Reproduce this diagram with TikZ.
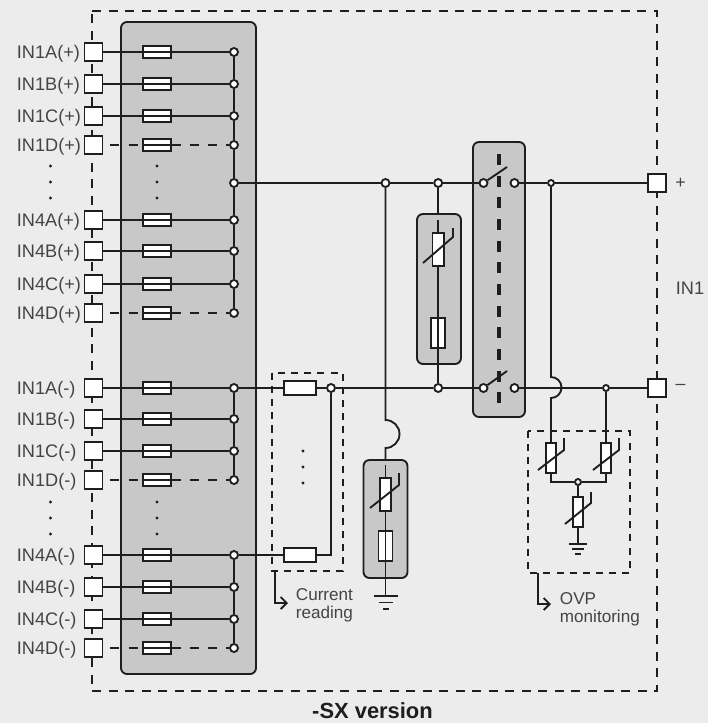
\documentclass[tikz,border=0pt]{standalone}
\usepackage{fontspec}
\setmainfont{Liberation Sans}
\usetikzlibrary{arrows.meta}
\definecolor{panel}{HTML}{ECECEC}
\definecolor{spd}{HTML}{C8C8C8}
\definecolor{wire}{HTML}{1E1E1E}
\definecolor{txt}{HTML}{444444}
\begin{document}
\begin{tikzpicture}[x=0.03cm,y=0.03cm,color=wire]
\tikzstyle{every node}+=[inner sep=0pt]
\tikzstyle{every path}+=[line width=1.6pt]
\tikzstyle{terminal}=[draw,fill=white,minimum size=0.54cm]
\tikzstyle{fuseh}=[draw,fill=white,minimum width=0.84cm,minimum height=0.38cm]
\tikzstyle{shunt}=[draw,fill=white,minimum width=0.94cm,minimum height=0.4cm]
\tikzstyle{fusev}=[draw,fill=white,minimum width=0.42cm,minimum height=0.9cm]
\tikzstyle{varistor}=[draw,fill=white,minimum width=0.34cm,minimum height=1cm]
\tikzstyle{varsmall}=[draw,fill=white,minimum width=0.3cm,minimum height=0.9cm]
\tikzstyle{junc}=[circle,draw,fill=white,minimum size=0.24cm]
\tikzstyle{jsmall}=[circle,draw,fill=white,minimum size=0.18cm]
\tikzstyle{pin}=[circle,fill=wire,minimum size=0.1cm]
\tikzstyle{spdbox}=[draw,fill=spd,rounded corners=0.18cm]
\tikzstyle{inlabel}=[anchor=base west,text=txt,font=\fontsize{15.5}{18}\selectfont]
\tikzstyle{notelabel}=[anchor=north west,align=left,text=txt,font=\fontsize{14.6}{15.4}\selectfont]
\tikzstyle{feed}=[dash pattern=on 7.7pt off 7.7pt]
\tikzstyle{boxdash}=[dash pattern=on 6pt off 5.2pt]
\tikzstyle{outerdash}=[dash pattern=on 7.7pt off 6.4pt]
\tikzstyle{linkdash}=[line width=2.8pt,dash pattern=on 9.4pt off 9.1pt]
\tikzstyle{noteline}=[-{Straight Barb[length=0.18cm,width=0.36cm]}]
% sheet
\fill [panel] (0,0) rectangle (708,-723);
\useasboundingbox (0,0) rectangle (708,-723);
\draw [outerdash] (92,-11) -- (657,-11) -- (657,-691) -- (92,-691) -- cycle;
% grey blocks
\node [spdbox,minimum width=4.05cm,minimum height=19.56cm] (spdin) at (188.5,-348) {};
\node [spdbox,minimum width=1.56cm,minimum height=8.25cm] (spdsw) at (499,-279.5) {};
\node [spdbox,minimum width=1.32cm,minimum height=4.5cm] (spdmid) at (439,-289) {};
\node [spdbox,minimum width=1.32cm,minimum height=3.54cm] (spdlow) at (385.5,-519) {};
% dashed groups
\draw [boxdash] (272,-373) rectangle (343,-571);
\draw [boxdash] (528,-431) rectangle (630,-573);
% input rows, plus side
\node [inlabel] (lp1a) at (16,-58.5) {IN1A(+)};
\node [inlabel] (lp1b) at (16,-90.5) {IN1B(+)};
\node [inlabel] (lp1c) at (16,-122.5) {IN1C(+)};
\node [inlabel] (lp1d) at (16,-151.5) {IN1D(+)};
\node [inlabel] (lp4a) at (16,-226.5) {IN4A(+)};
\node [inlabel] (lp4b) at (16,-257.5) {IN4B(+)};
\node [inlabel] (lp4c) at (16,-290.5) {IN4C(+)};
\node [inlabel] (lp4d) at (16,-319.5) {IN4D(+)};
\node [terminal] (tp1a) at (93.5,-52) {};
\node [terminal] (tp1b) at (93.5,-84) {};
\node [terminal] (tp1c) at (93.5,-116) {};
\node [terminal] (tp1d) at (93.5,-145) {};
\node [terminal] (tp4a) at (93.5,-220) {};
\node [terminal] (tp4b) at (93.5,-251) {};
\node [terminal] (tp4c) at (93.5,-284) {};
\node [terminal] (tp4d) at (93.5,-313) {};
\node [fuseh] (fp1a) at (157,-52) {};
\node [fuseh] (fp1b) at (157,-84) {};
\node [fuseh] (fp1c) at (157,-116) {};
\node [fuseh] (fp1d) at (157,-145) {};
\node [fuseh] (fp4a) at (157,-220) {};
\node [fuseh] (fp4b) at (157,-251) {};
\node [fuseh] (fp4c) at (157,-284) {};
\node [fuseh] (fp4d) at (157,-313) {};
\node [junc] (jp1a) at (234,-52) {};
\node [junc] (jp1b) at (234,-84) {};
\node [junc] (jp1c) at (234,-116) {};
\node [junc] (jp1d) at (234,-145) {};
\node [junc] (jphub) at (234,-183) {};
\node [junc] (jp4a) at (234,-220) {};
\node [junc] (jp4b) at (234,-251) {};
\node [junc] (jp4c) at (234,-284) {};
\node [junc] (jp4d) at (234,-313) {};
\draw (tp1a) -- (jp1a);
\draw (tp1b) -- (jp1b);
\draw (tp1c) -- (jp1c);
\draw (tp4a) -- (jp4a);
\draw (tp4b) -- (jp4b);
\draw (tp4c) -- (jp4c);
\draw [feed,shorten <=6pt] (tp1d) -- (fp1d);
\draw (fp1d.west) -- (fp1d.east);
\draw [feed] (fp1d) -- (jp1d);
\draw [feed,shorten <=6pt] (tp4d) -- (fp4d);
\draw (fp4d.west) -- (fp4d.east);
\draw [feed] (fp4d) -- (jp4d);
\draw (jp1a) -- (jp1b) -- (jp1c) -- (jp1d) -- (jphub) -- (jp4a) -- (jp4b) -- (jp4c) -- (jp4d);
% input rows, minus side
\node [inlabel] (lm1a) at (16,-394.5) {IN1A(-)};
\node [inlabel] (lm1b) at (16,-425.5) {IN1B(-)};
\node [inlabel] (lm1c) at (16,-457.5) {IN1C(-)};
\node [inlabel] (lm1d) at (16,-486.5) {IN1D(-)};
\node [inlabel] (lm4a) at (16,-561.5) {IN4A(-)};
\node [inlabel] (lm4b) at (16,-593.5) {IN4B(-)};
\node [inlabel] (lm4c) at (16,-625.5) {IN4C(-)};
\node [inlabel] (lm4d) at (16,-654.5) {IN4D(-)};
\node [terminal] (tm1a) at (93.5,-388) {};
\node [terminal] (tm1b) at (93.5,-419) {};
\node [terminal] (tm1c) at (93.5,-451) {};
\node [terminal] (tm1d) at (93.5,-480) {};
\node [terminal] (tm4a) at (93.5,-555) {};
\node [terminal] (tm4b) at (93.5,-587) {};
\node [terminal] (tm4c) at (93.5,-619) {};
\node [terminal] (tm4d) at (93.5,-648) {};
\node [fuseh] (fm1a) at (157,-388) {};
\node [fuseh] (fm1b) at (157,-419) {};
\node [fuseh] (fm1c) at (157,-451) {};
\node [fuseh] (fm1d) at (157,-480) {};
\node [fuseh] (fm4a) at (157,-555) {};
\node [fuseh] (fm4b) at (157,-587) {};
\node [fuseh] (fm4c) at (157,-619) {};
\node [fuseh] (fm4d) at (157,-648) {};
\node [junc] (jm1a) at (234,-388) {};
\node [junc] (jm1b) at (234,-419) {};
\node [junc] (jm1c) at (234,-451) {};
\node [junc] (jm1d) at (234,-480) {};
\node [junc] (jm4a) at (234,-555) {};
\node [junc] (jm4b) at (234,-587) {};
\node [junc] (jm4c) at (234,-619) {};
\node [junc] (jm4d) at (234,-648) {};
\draw (tm1a) -- (jm1a);
\draw (tm1b) -- (jm1b);
\draw (tm1c) -- (jm1c);
\draw (tm4a) -- (jm4a);
\draw (tm4b) -- (jm4b);
\draw (tm4c) -- (jm4c);
\draw [feed,shorten <=6pt] (tm1d) -- (fm1d);
\draw (fm1d.west) -- (fm1d.east);
\draw [feed] (fm1d) -- (jm1d);
\draw [feed,shorten <=6pt] (tm4d) -- (fm4d);
\draw (fm4d.west) -- (fm4d.east);
\draw [feed] (fm4d) -- (jm4d);
\draw (jm1a) -- (jm1b) -- (jm1c) -- (jm1d);
\draw (jm4a) -- (jm4b) -- (jm4c) -- (jm4d);
% omitted rows
\node [pin] (da1) at (50.5,-166) {};
\node [pin] (da2) at (50.5,-182) {};
\node [pin] (da3) at (50.5,-198) {};
\node [pin] (db1) at (157,-166) {};
\node [pin] (db2) at (157,-182) {};
\node [pin] (db3) at (157,-198) {};
\node [pin] (dc1) at (50.5,-502) {};
\node [pin] (dc2) at (50.5,-518) {};
\node [pin] (dc3) at (50.5,-534) {};
\node [pin] (dd1) at (157,-502) {};
\node [pin] (dd2) at (157,-518) {};
\node [pin] (dd3) at (157,-534) {};
\node [pin] (de1) at (303,-451) {};
\node [pin] (de2) at (303,-467) {};
\node [pin] (de3) at (303,-483) {};
% current reading
\node [shunt] (fc1) at (300,-388) {};
\node [shunt] (fc2) at (300,-555) {};
\node [junc] (jc1) at (331,-388) {};
% main buses
\node [junc] (jb1) at (385.5,-183) {};
\node [junc] (jb2) at (438.2,-183) {};
\node [junc] (jb3) at (438.2,-388) {};
\node [junc] (swtl) at (483.5,-183) {};
\node [junc] (swtr) at (514.5,-183) {};
\node [junc] (swbl) at (483.5,-388) {};
\node [junc] (swbr) at (514.5,-388) {};
\node [jsmall] (jb4) at (551,-183) {};
\node [jsmall] (jb5) at (606,-388) {};
\node [terminal] (tplus) at (657,-183) {};
\node [terminal] (tminus) at (657,-388) {};
\node [text=txt,font=\fontsize{15.2}{18}\selectfont] (lplus) at (680.5,-183) {+};
\node [text=txt,font=\fontsize{15.2}{18}\selectfont] (lminus) at (680.5,-387) {--};
\node [inlabel] (lin1) at (675,-294.5) {IN1};
\draw (jphub) -- (jb1) -- (jb2) -- (swtl);
\draw (swtr) -- (jb4) -- (tplus);
\draw (jm1a) -- (fc1) -- (jc1) -- (jb3) -- (swbl);
\draw (swbr) -- (jb5) -- (tminus);
\draw (jm4a) -- (fc2) -| (jc1);
% switch pair
\coordinate (blt) at (507,-167);
\coordinate (blb) at (507,-371);
\coordinate (lkt) at (499,-154);
\coordinate (lkb) at (499,-403);
\draw [linkdash] (lkt) -- (lkb);
\draw (swtl) -- (blt);
\draw (swbl) -- (blb);
% middle branch
\coordinate (stm) at (438.2,-220);
\node [varistor] (vm) at (438.2,-249.5) {};
\node [fusev] (fm) at (438.2,-333) {};
\draw (jb2) -- (stm |- spdmid.north);
\draw (stm) -- (vm);
\draw (vm) -- (jb3);
\draw (423,-263) -- (453,-237) -- (453,-228);
% lower branch
\coordinate (hla) at (385.5,-420);
\coordinate (hlb) at (385.5,-448);
\coordinate (stl) at (385.5,-465);
\coordinate (gl) at (385.5,-596);
\node [varistor] (vl) at (385.5,-494.5) {};
\node [fusev] (fl) at (385.5,-546) {};
\draw (jb1) -- (hla) arc (90:-90:14) -- (spdlow);
\draw (stl) -- (vl);
\draw (vl) -- (gl);
\draw (370,-508) -- (399,-485) -- (399,-473);
\draw (374,-596) -- (398,-596);
\draw (379,-602.5) -- (393,-602.5);
\draw (383,-609) -- (389,-609);
% OVP branch
\coordinate (hoa) at (551,-377);
\coordinate (hob) at (551,-398);
\coordinate (go) at (578,-544);
\node [varsmall] (vo1) at (551,-458) {};
\node [varsmall] (vo2) at (606,-458) {};
\node [jsmall] (jo) at (578,-482) {};
\node [varsmall] (vo3) at (578,-512) {};
\draw (jb4) -- (hoa) arc (90:-90:10.5) -- (vo1);
\draw (jb5) -- (vo2);
\draw (vo1) |- (jo);
\draw (vo2) |- (jo);
\draw (jo) -- (vo3);
\draw (vo3) -- (go);
\draw (538,-470) -- (564,-450) -- (564,-438);
\draw (593,-470) -- (619,-450) -- (619,-438);
\draw (565,-524) -- (591,-503) -- (591,-492);
\draw (569,-544) -- (587,-544);
\draw (572,-549) -- (584,-549);
\draw (575,-554) -- (581,-554);
% notes
\coordinate (nc1) at (275,-571);
\coordinate (nc2) at (288,-603);
\coordinate (no1) at (538,-573);
\coordinate (no2) at (551,-604);
\draw [noteline] (nc1) |- (nc2);
\draw [noteline] (no1) |- (no2);
\node [notelabel] (lcur) at (295,-587.5) {Current\\reading};
\node [notelabel] (lovp) at (559,-592) {OVP\\monitoring};
\node [text=wire,font=\bfseries\fontsize{18.7}{22}\selectfont] (lsx) at (372.5,-710.5) {-SX version};
\end{tikzpicture}
\end{document}
